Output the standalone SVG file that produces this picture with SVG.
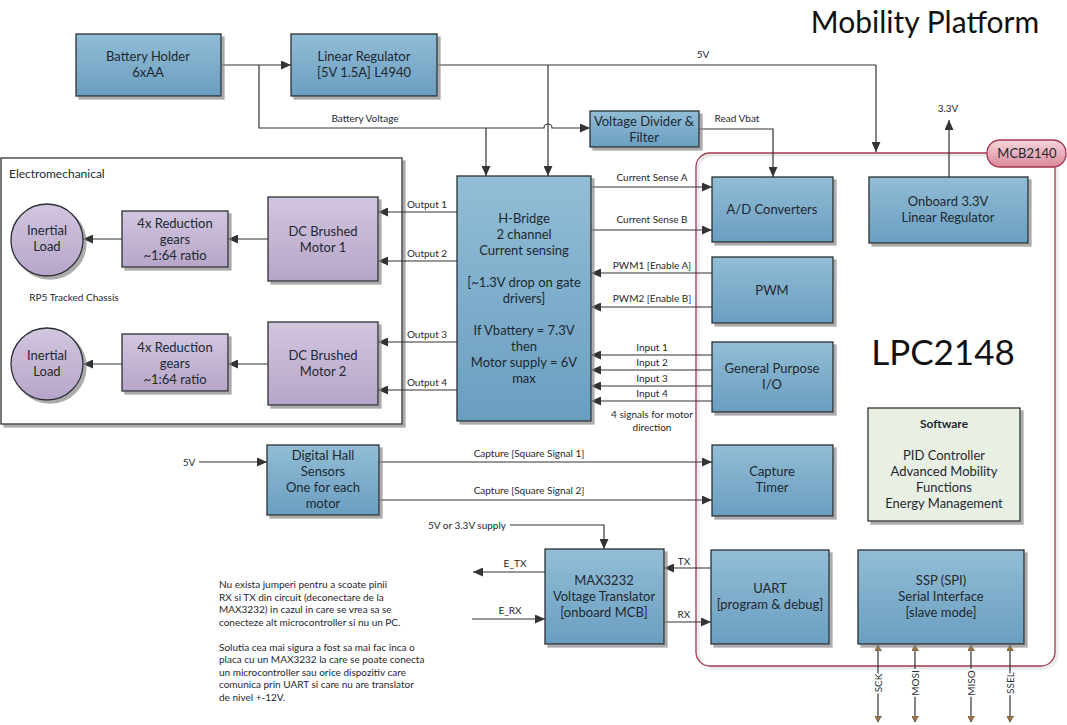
<svg xmlns="http://www.w3.org/2000/svg" width="1067" height="725" viewBox="0 0 1067 725">
<defs>
<linearGradient id="gBlue" x1="0" y1="0" x2="0" y2="1"><stop offset="0" stop-color="#92bdd6"/><stop offset="1" stop-color="#6a9ec0"/></linearGradient>
<linearGradient id="gPurple" x1="0" y1="0" x2="0" y2="1"><stop offset="0" stop-color="#d2c6df"/><stop offset="1" stop-color="#b6a5c9"/></linearGradient>
<linearGradient id="gPink" x1="0" y1="0" x2="0" y2="1"><stop offset="0" stop-color="#f6d6dc"/><stop offset="1" stop-color="#d9899a"/></linearGradient>
<filter id="sh" x="-10%" y="-10%" width="130%" height="130%"><feDropShadow dx="3" dy="3" stdDeviation="0.6" flood-color="#888" flood-opacity="0.7"/></filter>
<filter id="sh2" x="-10%" y="-10%" width="130%" height="130%"><feDropShadow dx="2" dy="2" stdDeviation="1" flood-color="#999" flood-opacity="0.5"/></filter>
<marker id="ar" markerUnits="userSpaceOnUse" markerWidth="10" markerHeight="9" refX="10" refY="4.5" orient="auto"><path d="M0,0 L10,4.5 L0,9 z" fill="#333"/></marker>
<marker id="br" markerUnits="userSpaceOnUse" markerWidth="7" markerHeight="7" refX="6" refY="3.5" orient="auto-start-reverse"><path d="M0,0 L6,3.5 L0,7 z" fill="#9a7446" stroke="#5a4630" stroke-width="0.6"/></marker>
<style>
.blue{fill:url(#gBlue);stroke:#2b2f33;stroke-width:1.3;filter:url(#sh)}
.purple{fill:url(#gPurple);stroke:#2b2f33;stroke-width:1.3;filter:url(#sh)}
.t{font-family:Lato,"Open Sans",sans-serif;font-size:13px;fill:#1e2830;text-anchor:middle}
.s{font-family:Lato,"Open Sans",sans-serif;font-size:10px;fill:#1e2830;text-anchor:middle}
.p{font-family:Lato,"Open Sans",sans-serif;font-size:10px;fill:#1e2830}
.c{fill:none;stroke:#333;stroke-width:1.2}
.a{marker-end:url(#ar)}
.spi{fill:none;stroke:#333;stroke-width:1.2;marker-start:url(#br);marker-end:url(#br)}
.sl{font-family:Lato,"Open Sans",sans-serif;font-size:10px;fill:#1e2830;text-anchor:middle;stroke:#fff;stroke-width:4;paint-order:stroke}
</style>
</defs>
<rect width="1067" height="725" fill="#fff"/>

<text x="925" y="33" style="font-family:Lato,'Open Sans',sans-serif;font-size:30px;fill:#111;text-anchor:middle">Mobility Platform</text>

<g id="electromechanical">
<rect x="1" y="158" width="401" height="266" fill="#fff" stroke="#333" stroke-width="1.3" filter="url(#sh)"/>
<text x="9" y="178" class="p" style="font-size:12px">Electromechanical</text>
<text x="74" y="301" class="s">RP5 Tracked Chassis</text>
</g>

<g id="mcb2140">
<rect x="696" y="153" width="359" height="513" rx="14" fill="none" stroke="#a3364e" stroke-width="1.3" filter="url(#sh2)"/>
</g>

<g id="connectors">
<path class="c a" d="M221,65 H291"/>
<path class="c" d="M437,65 H876"/>
<path class="c a" d="M876,65 V152"/>
<path class="c a" d="M548,65 V176"/>
<path class="c a" d="M259,65 V128 H544 A4,4 0 0 1 552,128 H590"/>
<path class="c a" d="M486,128 V176"/>
<path class="c a" d="M699,129 H773 V177"/>
<path class="c a" d="M949,177 V120"/>
<path class="c a" d="M457,212 H378"/>
<path class="c a" d="M457,261 H378"/>
<path class="c a" d="M457,342 H378"/>
<path class="c a" d="M457,390 H378"/>
<path class="c a" d="M268,239 H228"/>
<path class="c a" d="M122,239 H83"/>
<path class="c a" d="M268,364 H228"/>
<path class="c a" d="M122,364 H83"/>
<path class="c a" d="M591,187 H712"/>
<path class="c a" d="M591,230 H712"/>
<path class="c a" d="M712,273 H591"/>
<path class="c a" d="M712,307 H591"/>
<path class="c a" d="M712,355 H591"/>
<path class="c a" d="M712,370 H591"/>
<path class="c a" d="M712,386 H591"/>
<path class="c a" d="M712,401 H591"/>
<path class="c a" d="M199,462 H267"/>
<path class="c a" d="M379,462 H712"/>
<path class="c a" d="M379,500 H712"/>
<path class="c a" d="M510,525 H604 V549"/>
<path class="c a" d="M545,572 H473"/>
<path class="c a" d="M472,619 H545"/>
<path class="c a" d="M711,568 H664"/>
<path class="c a" d="M664,622 H711"/>
<path class="spi" d="M878,645 V722"/>
<path class="spi" d="M915,645 V722"/>
<path class="spi" d="M971,645 V722"/>
<path class="spi" d="M1010,645 V722"/>
<text x="703" y="58" class="s">5V</text>
<text x="365" y="122" class="s">Battery Voltage</text>
<text x="737" y="122" class="s">Read Vbat</text>
<text x="948" y="112" class="s">3.3V</text>
<text x="427" y="208" class="s">Output 1</text>
<text x="427" y="257" class="s">Output 2</text>
<text x="427" y="338" class="s">Output 3</text>
<text x="427" y="386" class="s">Output 4</text>
<text x="652" y="181" class="s">Current Sense A</text>
<text x="652" y="223" class="s">Current Sense B</text>
<text x="652" y="269" class="s">PWM1 [Enable A]</text>
<text x="652" y="302" class="s">PWM2 [Enable B]</text>
<text x="652" y="351" class="s">Input 1</text>
<text x="652" y="366" class="s">Input 2</text>
<text x="652" y="382" class="s">Input 3</text>
<text x="652" y="397" class="s">Input 4</text>
<text x="652" y="418" class="s">4 signals for motor</text>
<text x="652" y="431" class="s">direction</text>
<text x="189" y="466" class="s">5V</text>
<text x="529" y="457" class="s">Capture [Square Signal 1]</text>
<text x="529" y="494" class="s">Capture [Square Signal 2]</text>
<text x="506" y="529" class="s" style="text-anchor:end">5V or 3.3V supply</text>
<text x="515" y="567" class="s">E_TX</text>
<text x="510" y="614" class="s">E_RX</text>
<text x="684" y="565" class="s">TX</text>
<text x="684" y="618" class="s">RX</text>
<text class="sl" transform="translate(882,683) rotate(-90)">SCK</text>
<text class="sl" transform="translate(919,683) rotate(-90)">MOSI</text>
<text class="sl" transform="translate(975,683) rotate(-90)">MISO</text>
<text class="sl" transform="translate(1014,683) rotate(-90)">SSEL</text>
</g>

<g id="battery-holder"><rect class="blue" x="76" y="34" width="145" height="62"/><text class="t" x="148" y="61">Battery Holder</text><text class="t" x="148" y="77">6xAA</text></g>
<g id="linear-regulator"><rect class="blue" x="291" y="34" width="146" height="62"/><text class="t" x="364" y="61">Linear Regulator</text><text class="t" x="364" y="77">[5V 1.5A] L4940</text></g>
<g id="voltage-divider"><rect class="blue" x="590" y="111" width="109" height="36"/><text class="t" x="644" y="126">Voltage Divider &amp;</text><text class="t" x="644" y="142">Filter</text></g>

<g id="motor1"><rect class="purple" x="268" y="197" width="110" height="84"/><text class="t" x="323" y="236">DC Brushed</text><text class="t" x="323" y="252">Motor 1</text></g>
<g id="motor2"><rect class="purple" x="268" y="322" width="110" height="83"/><text class="t" x="323" y="360">DC Brushed</text><text class="t" x="323" y="376">Motor 2</text></g>
<g id="gears1"><rect class="purple" x="122" y="211" width="106" height="56"/><text class="t" x="175" y="228">4x Reduction</text><text class="t" x="175" y="244">gears</text><text class="t" x="175" y="260">~1:64 ratio</text></g>
<g id="gears2"><rect class="purple" x="122" y="334" width="106" height="57"/><text class="t" x="175" y="352">4x Reduction</text><text class="t" x="175" y="368">gears</text><text class="t" x="175" y="384">~1:64 ratio</text></g>
<g id="load1"><circle class="purple" cx="47" cy="240" r="36"/><text class="t" x="47" y="235">Inertial</text><text class="t" x="47" y="251">Load</text></g>
<g id="load2"><circle class="purple" cx="47" cy="364" r="36"/><text class="t" x="47" y="360">Inertial</text><text class="t" x="47" y="376">Load</text></g>

<g id="h-bridge"><rect class="blue" x="457" y="176" width="134" height="245"/>
<text class="t" x="524" y="223">H-Bridge</text><text class="t" x="524" y="239">2 channel</text><text class="t" x="524" y="255">Current sensing</text>
<text class="t" x="524" y="287">[~1.3V drop on gate</text><text class="t" x="524" y="303">drivers]</text>
<text class="t" x="524" y="335">If Vbattery = 7.3V</text><text class="t" x="524" y="351">then</text><text class="t" x="524" y="367">Motor supply = 6V</text><text class="t" x="524" y="383">max</text></g>

<g id="ad-converters"><rect class="blue" x="712" y="177" width="121" height="65"/><text class="t" x="772" y="214">A/D Converters</text></g>
<g id="onboard-regulator"><rect class="blue" x="869" y="177" width="159" height="66"/><text class="t" x="948" y="206">Onboard 3.3V</text><text class="t" x="948" y="222">Linear Regulator</text></g>
<g id="pwm"><rect class="blue" x="712" y="257" width="121" height="66"/><text class="t" x="772" y="295">PWM</text></g>
<g id="gpio"><rect class="blue" x="712" y="342" width="121" height="70"/><text class="t" x="772" y="373">General Purpose</text><text class="t" x="772" y="389">I/O</text></g>
<g id="lpc2148"><text x="943" y="365" style="font-family:Lato,'Open Sans',sans-serif;font-size:35px;fill:#111;text-anchor:middle">LPC2148</text></g>
<g id="software"><rect x="868" y="408" width="152" height="113" fill="#e8f0e4" stroke="#333" stroke-width="1.3" filter="url(#sh)"/>
<text class="t" x="944" y="428" style="font-weight:bold;font-size:12px">Software</text>
<text class="t" x="944" y="460">PID Controller</text><text class="t" x="944" y="476">Advanced Mobility</text><text class="t" x="944" y="492">Functions</text><text class="t" x="944" y="508">Energy Management</text></g>
<g id="capture-timer"><rect class="blue" x="712" y="445" width="121" height="71"/><text class="t" x="772" y="476">Capture</text><text class="t" x="772" y="492">Timer</text></g>
<g id="hall-sensors"><rect class="blue" x="267" y="445" width="112" height="70"/><text class="t" x="323" y="460">Digital Hall</text><text class="t" x="323" y="476">Sensors</text><text class="t" x="323" y="492">One for each</text><text class="t" x="323" y="508">motor</text></g>
<g id="max3232"><rect class="blue" x="545" y="549" width="119" height="95"/><text class="t" x="604" y="585">MAX3232</text><text class="t" x="604" y="601">Voltage Translator</text><text class="t" x="604" y="617">[onboard MCB]</text></g>
<g id="uart"><rect class="blue" x="711" y="550" width="118" height="94"/><text class="t" x="770" y="593">UART</text><text class="t" x="770" y="609">[program &amp; debug]</text></g>
<g id="ssp"><rect class="blue" x="858" y="550" width="166" height="94"/><text class="t" x="941" y="585">SSP (SPI)</text><text class="t" x="941" y="601">Serial Interface</text><text class="t" x="941" y="617">[slave mode]</text></g>
<g id="mcb-label"><rect x="987" y="140" width="79" height="27" rx="13" fill="url(#gPink)" stroke="#a3364e" stroke-width="1.3"/><text class="t" x="1027" y="158">MCB2140</text></g>

<g id="note">
<text class="p" x="219" y="588">Nu exista jumperi pentru a scoate pinii</text>
<text class="p" x="219" y="600.5">RX si TX din circuit (deconectare de la</text>
<text class="p" x="219" y="613">MAX3232) in cazul in care se vrea sa se</text>
<text class="p" x="219" y="625.5">conecteze alt microcontroller si nu un PC.</text>
<text class="p" x="219" y="650.5">Solutia cea mai sigura a fost sa mai fac inca o</text>
<text class="p" x="219" y="663">placa cu un MAX3232 la care se poate conecta</text>
<text class="p" x="219" y="675.5">un microcontroller sau orice dispozitiv care</text>
<text class="p" x="219" y="688">comunica prin UART si care nu are translator</text>
<text class="p" x="219" y="700.5">de nivel +-12V.</text>
</g>
</svg>
